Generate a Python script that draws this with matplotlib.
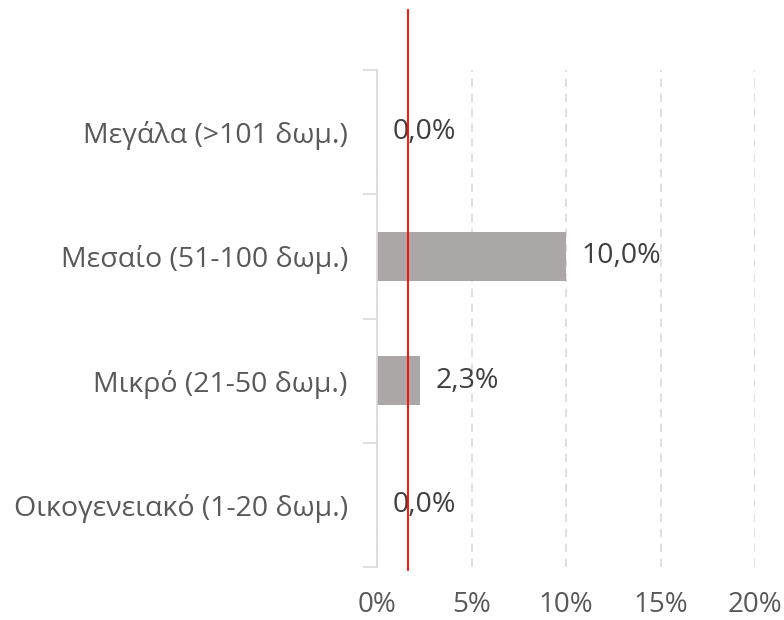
import matplotlib
matplotlib.use("Agg")
import matplotlib.pyplot as plt
import numpy as np

categories = ["Οικογενειακό (1-20 δωμ.)", "Μικρό (21-50 δωμ.)", "Μεσαίο (51-100 δωμ.)", "Μεγάλα (>101 δωμ.)"]
values = [0.0, 2.3, 10.0, 0.0]
value_labels = ["0,0%", "2,3%", "10,0%", "0,0%"]
xticks = [0, 5, 10, 15, 20]
xtick_labels = ["0%", "5%", "10%", "15%", "20%"]
ref_value = 1.64

plt.rcParams['font.family'] = ['Open Sans', 'DejaVu Sans']

fig = plt.figure(figsize=(7.84, 6.2), dpi=100)
ax = fig.add_axes([377/784, 1-567/620, (755-377)/784, (567-70)/620])

y = np.arange(len(categories))
ax.barh(y, values, height=0.4, color="#ABA7A6", zorder=2)
for yi, v, lab in zip(y, values, value_labels):
    ax.annotate(lab, (v, yi), xytext=(11, 0), textcoords="offset points",
                va="center", ha="left", fontsize=20.5, color="#404040", zorder=4)

ax.set_xlim(0, 20)
ax.set_ylim(-0.5, len(categories) - 0.5)
ax.set_xticks(xticks)
ax.set_xticklabels(xtick_labels, fontsize=20, color="#595959")
ax.set_yticks(y)
ax.set_yticklabels(categories, fontsize=20.5, color="#595959")
ax.set_yticks(np.arange(-0.5, len(categories), 1), minor=True)
ax.tick_params(axis="y", which="major", length=0, pad=21)
ax.tick_params(axis="y", which="minor", length=10, color="#D9D9D9", width=1.2)
ax.tick_params(axis="x", length=0, pad=17)

ax.grid(axis="x", color="#D9D9D9", linestyle=(0, (5, 4)), linewidth=1.2, zorder=0)
for s in ["top", "right", "bottom"]:
    ax.spines[s].set_visible(False)
ax.spines["left"].set_color("#D9D9D9")
ax.spines["left"].set_linewidth(1.2)
ax.set_axisbelow(True)

ax.axvline(ref_value, ymin=-0.006, ymax=1.121, color="#FF0000", linewidth=1.3, clip_on=False, zorder=5)

fig.savefig("out.png", dpi=100)
